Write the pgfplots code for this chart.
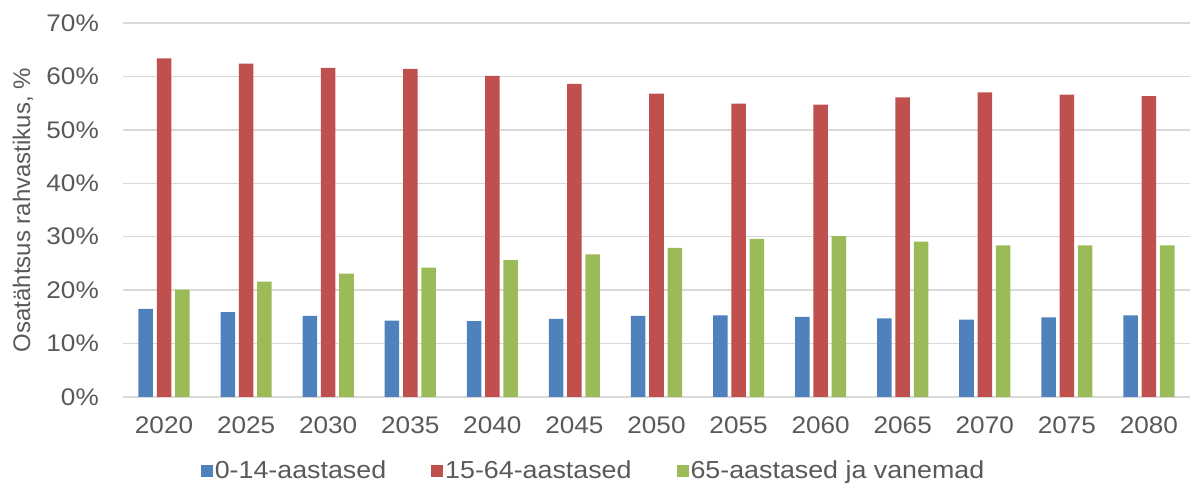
\documentclass[border=0pt]{standalone}
\usepackage{pgfplots}
\pgfplotsset{compat=1.18}
\usepackage{pgfplotstable}
\usepackage{fontspec}
\setmainfont[FakeStretch=1.09]{Liberation Sans}
\newfontfamily\titlefont{Liberation Sans}

\definecolor{c014}{HTML}{4F81BD}
\definecolor{c1564}{HTML}{C0504D}
\definecolor{c65}{HTML}{9BBB59}
\definecolor{txt}{HTML}{595959}
\definecolor{gridc}{HTML}{D9D9D9}

% osatähtsus rahvastikus, %
\pgfplotstableread{
x year young work old
0  2020 16.5 63.4 20.1
1  2025 15.9 62.4 21.6
2  2030 15.2 61.6 23.1
3  2035 14.3 61.4 24.2
4  2040 14.2 60.1 25.6
5  2045 14.6 58.6 26.7
6  2050 15.2 56.8 27.9
7  2055 15.3 54.9 29.6
8  2060 15.0 54.7 30.1
9  2065 14.7 56.1 29.1
10 2070 14.5 57.0 28.4
11 2075 14.9 56.6 28.4
12 2080 15.3 56.3 28.4
}\data

\begin{document}
\begin{tikzpicture}
\useasboundingbox (-123pt,-87pt) rectangle (1069pt,397pt);
\begin{axis}[
    scale only axis,
    width=1067pt, height=374pt,
    xmin=-0.5, xmax=12.5,
    ymin=0, ymax=70,
    ytick={0,10,...,70},
    yticklabel={\pgfmathprintnumber{\tick}\%},
    xtick=data,
    xticklabels from table={\data}{year},
    major tick length=0pt,
    axis line style={draw=none},
    ymajorgrids,
    major grid style={draw=gridc, line width=1.5pt},
    /pgf/number format/assume math mode=true,
    tick label style={font=\fontsize{24}{28}\selectfont, text=txt},
    yticklabel style={anchor=east, inner sep=0pt, xshift=-24pt},
    xticklabel style={anchor=north, inner sep=0pt, yshift=-19.5pt},
    ylabel={Osatähtsus rahvastikus, \%},
    ylabel style={at={(axis description cs:-0.0937,0.5)}, anchor=center,
        font=\titlefont\fontsize{24}{28}\selectfont, text=txt},
    ybar, bar width=0.177,
    legend columns=3,
    legend style={draw=none, fill=none,
        at={(axis description cs:0.441,-0.197)}, anchor=center,
        font=\fontsize{24.6}{28}\selectfont, text=txt,
        nodes={inner sep=2pt},
        /tikz/every even column/.append style={column sep=43pt}},
    legend image code/.code={\fill[#1] (0pt,-6pt) rectangle (12pt,6pt);},
]
\addplot[fill=c014, draw=none, bar shift=-0.223] table[x=x, y=young] {\data};
\addplot[fill=c1564, draw=none, bar shift=0] table[x=x, y=work] {\data};
\addplot[fill=c65, draw=none, bar shift=0.223] table[x=x, y=old] {\data};
\legend{0-14-aastased, 15-64-aastased, 65-aastased ja vanemad}
\end{axis}
\end{tikzpicture}
\end{document}
